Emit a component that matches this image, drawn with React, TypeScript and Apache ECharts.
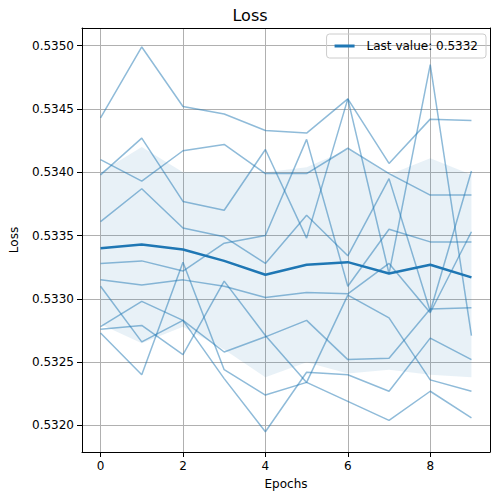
import React, { useEffect, useRef } from "react";
import * as echarts from "echarts";

const epochs = [0, 1, 2, 3, 4, 5, 6, 7, 8, 9];
const runs: number[][] = [
  [0.53443, 0.53499, 0.53452, 0.53446, 0.53433, 0.53431, 0.53458, 0.53407, 0.53442, 0.53441],
  [0.53398, 0.53427, 0.53377, 0.5337, 0.53418, 0.53348, 0.53458, 0.5332, 0.53485, 0.53271],
  [0.5341, 0.53393, 0.53417, 0.53422, 0.53399, 0.53399, 0.53419, 0.53399, 0.53382, 0.53382],
  [0.53361, 0.53387, 0.53356, 0.53349, 0.53328, 0.53366, 0.53334, 0.53395, 0.5329, 0.53401],
  [0.53328, 0.5333, 0.53322, 0.53344, 0.5335, 0.53426, 0.5331, 0.53355, 0.53345, 0.53345],
  [0.53315, 0.53311, 0.53315, 0.5331, 0.53301, 0.53305, 0.53304, 0.53328, 0.53289, 0.53353],
  [0.5331, 0.53266, 0.53283, 0.53258, 0.5327, 0.53283, 0.53252, 0.53253, 0.53292, 0.53293],
  [0.53276, 0.53279, 0.53256, 0.53314, 0.53271, 0.53234, 0.53303, 0.53285, 0.53236, 0.53227],
  [0.53278, 0.53298, 0.53283, 0.53237, 0.53195, 0.53242, 0.5324, 0.53227, 0.53269, 0.53252],
  [0.53273, 0.5324, 0.53329, 0.53244, 0.53224, 0.53234, 0.53219, 0.53204, 0.53227, 0.53206],
];
const meanValues = [0.5334, 0.53343, 0.53339, 0.5333, 0.53319, 0.53327, 0.53329, 0.5332, 0.53327, 0.53317];
const bandUpper = [0.534, 0.5342, 0.534, 0.534, 0.534, 0.53404, 0.53418, 0.53398, 0.53411, 0.53398];
const bandLower = [0.5328, 0.53265, 0.53278, 0.5326, 0.53238, 0.5325, 0.53241, 0.53244, 0.5324, 0.53238];
const yTicks = [0.532, 0.5325, 0.533, 0.5335, 0.534, 0.5345, 0.535];
const xTicks = [0, 2, 4, 6, 8];

const C = "#1f77b4";
const font = "DejaVu Sans";

export default function App() {
  const ref = useRef<HTMLDivElement>(null);
  useEffect(() => {
    const chart = echarts.init(ref.current!, null, { renderer: "svg" });
    const thin = runs.map((r, k) => ({
      type: "line", name: "run" + k, data: epochs.map((e, i) => [e, r[i]]),
      symbol: "none", lineStyle: { color: C, width: 1.5, opacity: 0.5 }, z: 3, silent: true,
    }));
    const bandData = epochs.map((e, i) => [e, bandLower[i], bandUpper[i]]);
    const xMin = -0.45, xMax = 9.45, yMin = 0.53179, yMax = 0.53514;
    const frame = { show: true, onZero: false, lineStyle: { color: "#000" } };
    chart.setOption({
      animation: false,
      textStyle: { fontFamily: font },
      title: { text: "Loss", left: "center", top: 2, textStyle: { fontFamily: font, fontSize: 16, fontWeight: "normal", color: "#000" } },
      legend: {
        data: [{ name: "Last value: 0.5332", icon: "path://M0,0 L40,0 L40,6 L0,6 Z" }],
        right: 14, top: 34, itemWidth: 34, itemHeight: 3, orient: "vertical",
        borderColor: "#ccc", borderWidth: 1, borderRadius: 3, padding: [6, 8],
        textStyle: { fontFamily: font, fontSize: 12, color: "#000" },
      },
      grid: { left: 82, right: 10, top: 28, bottom: 48 },
      xAxis: [{
        type: "value", min: xMin, max: xMax, name: "Epochs", nameLocation: "middle", nameGap: 26,
        nameTextStyle: { fontFamily: font, fontSize: 12, color: "#000" },
        axisLine: frame,
        axisTick: { customValues: xTicks, lineStyle: { color: "#000" } },
        axisLabel: { customValues: xTicks, color: "#000", fontSize: 12, fontFamily: font, formatter: (v: number) => String(v) },
        splitLine: { show: true, lineStyle: { color: "#b0b0b0", width: 1 } },
      }, {
        type: "value", position: "top", min: xMin, max: xMax, axisLine: frame,
        axisTick: { show: false }, axisLabel: { show: false }, splitLine: { show: false },
      }],
      yAxis: [{
        type: "value", min: yMin, max: yMax, name: "Loss", nameLocation: "middle", nameGap: 62,
        nameTextStyle: { fontFamily: font, fontSize: 12, color: "#000" },
        axisLine: frame,
        axisTick: { show: true, customValues: yTicks, lineStyle: { color: "#000" } },
        axisLabel: { customValues: yTicks, color: "#000", fontSize: 12, fontFamily: font, formatter: (v: number) => v.toFixed(4) },
        splitLine: { show: true, lineStyle: { color: "#b0b0b0", width: 1 } },
      }, {
        type: "value", position: "right", min: yMin, max: yMax, axisLine: frame,
        axisTick: { show: false }, axisLabel: { show: false }, splitLine: { show: false },
      }],
      series: [
        {
          type: "custom", name: "band", data: bandData, silent: true, z: 1,
          renderItem: (params: any, api: any) => {
            if (params.dataIndex !== 0) return null;
            const top = bandData.map((d) => api.coord([d[0], d[2]]));
            const bot = bandData.map((d) => api.coord([d[0], d[1]])).reverse();
            return { type: "polygon", shape: { points: top.concat(bot) }, style: { fill: C, opacity: 0.1 } };
          },
        },
        ...thin,
        { type: "line", name: "Last value: 0.5332", data: epochs.map((e, i) => [e, meanValues[i]]), symbol: "none", lineStyle: { color: C, width: 2.5 }, itemStyle: { color: C }, z: 5 },
      ],
    });
    return () => chart.dispose();
  }, []);
  return <div ref={ref} style={{ width: 500, height: 500, margin: -8 }} />;
}
